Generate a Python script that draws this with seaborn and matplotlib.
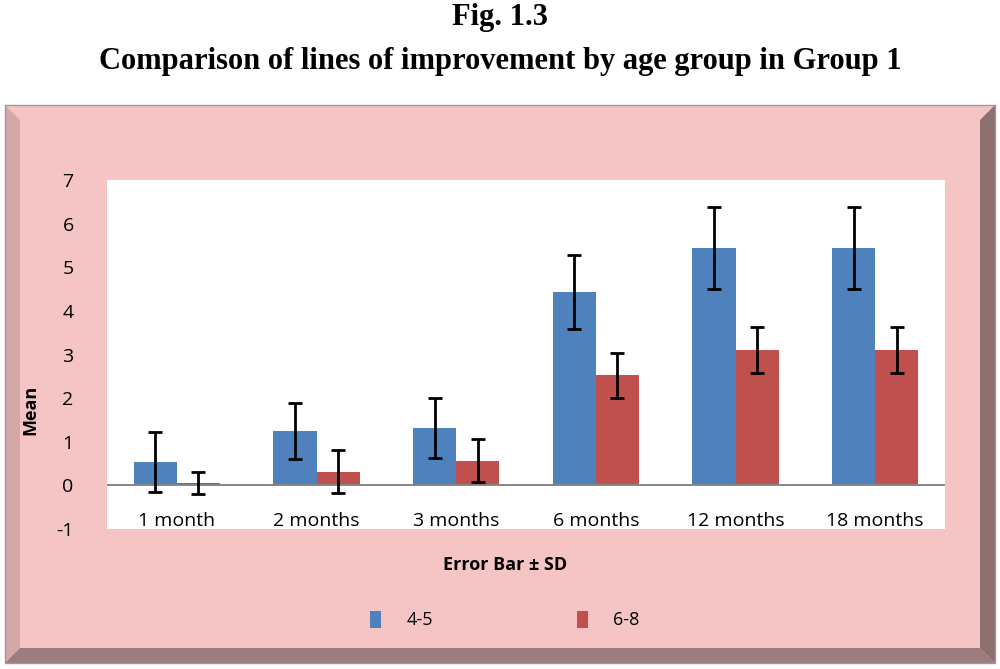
import pandas as pd
import matplotlib
matplotlib.use("Agg")
import matplotlib.pyplot as plt
from matplotlib.patches import Polygon, Rectangle
import seaborn as sns

months = ["1 month", "2 months", "3 months", "6 months", "12 months", "18 months"]
age_groups = ["4-5", "6-8"]
mean_45 = [0.53, 1.25, 1.32, 4.43, 5.44, 5.44]
sd_45 = [0.69, 0.64, 0.69, 0.84, 0.93, 0.93]
mean_68 = [0.05, 0.31, 0.57, 2.52, 3.10, 3.10]
sd_68 = [0.25, 0.49, 0.50, 0.52, 0.52, 0.52]
y_ticks = [-1, 0, 1, 2, 3, 4, 5, 6, 7]

blue = "#4F81BD"
red = "#C0504D"

df = pd.DataFrame({
    "month": months * 2,
    "age": [age_groups[0]] * len(months) + [age_groups[1]] * len(months),
    "mean": mean_45 + mean_68,
    "sd": sd_45 + sd_68,
})

sns.set_style("white")
plt.rcParams["font.family"] = ["Open Sans", "DejaVu Sans"]
plt.rcParams["text.color"] = "black"
plt.rcParams["xtick.color"] = "black"
plt.rcParams["ytick.color"] = "black"

W, H = 1000, 669
fig = plt.figure(figsize=(W / 100, H / 100), dpi=100)
fig.patch.set_facecolor("white")


def fx(x):
    return x / W


def fy(y):
    return 1 - y / H


def poly(pts, color):
    p = Polygon([(fx(a), fy(b)) for a, b in pts], closed=True, transform=fig.transFigure,
                facecolor=color, edgecolor="none", zorder=-10)
    fig.patches.append(p)


# beveled pink frame
poly([(5, 105), (995, 105), (995, 663), (5, 663)], "#F5C4C4")
poly([(5, 105), (20, 120), (20, 648), (5, 663)], "#D5A8A8")
poly([(5, 663), (20, 648), (980, 648), (995, 663)], "#9C7C7C")
poly([(995, 105), (980, 120), (980, 648), (995, 663)], "#8E6F6F")
fig.patches.append(Rectangle((fx(5), fy(663)), fx(990), 558 / H, transform=fig.transFigure,
                             facecolor="none", edgecolor="#9a9a9a", lw=1, zorder=-9))

ax = fig.add_axes([fx(107), fy(529), fx(838), 349 / H])
ax.set_zorder(2)
ax.set_facecolor("white")

sns.barplot(data=df, x="month", y="mean", hue="age", palette=[blue, red], width=0.62,
            errorbar=None, saturation=1, linewidth=0, ax=ax, legend=False)

for cont, sds in zip(ax.containers, [sd_45, sd_68]):
    xs = [b.get_x() + b.get_width() / 2 for b in cont]
    hs = [b.get_height() for b in cont]
    ax.errorbar(xs, hs, yerr=sds, fmt="none", ecolor="black", elinewidth=2,
                capsize=5, capthick=2, zorder=5)

ax.axhline(0, color="#858585", lw=1.4, zorder=4)
ax.set_ylim(-1, 7)
ax.set_xlim(-0.5, len(months) - 0.5)
ax.set_yticks(y_ticks)
ax.set_yticklabels([str(t) for t in y_ticks])
for s in ax.spines.values():
    s.set_visible(False)
ax.tick_params(axis="y", length=0, pad=24, labelsize=14)
ax.tick_params(axis="x", length=0, pad=-12, labelsize=14)
ax.set_xlabel("")
ax.set_ylabel("")

fig.text(fx(30), fy(410), "Mean", rotation=90, ha="center", va="center",
         fontsize=13, fontweight="bold")
fig.text(fx(505), fy(565), "Error Bar ± SD", ha="center", va="center",
         fontsize=13, fontweight="bold")

fig.text(0.5, fy(17), "Fig. 1.3", ha="center", va="center", fontsize=22,
         fontweight="bold", family="Liberation Serif")
fig.text(0.5, fy(61), "Comparison of lines of improvement by age group in Group 1",
         ha="center", va="center", fontsize=22, fontweight="bold", family="Liberation Serif")

handles = [Rectangle((0, 0), 1, 1, facecolor=c, edgecolor="none") for c in [blue, red]]
fig.legend(handles, age_groups, loc="center", bbox_to_anchor=(fx(505), fy(620)), ncol=2,
           frameon=False, fontsize=13, handlelength=0.6, handleheight=1.1,
           handletextpad=1.4, columnspacing=8)

fig.savefig("out.png", dpi=100)
